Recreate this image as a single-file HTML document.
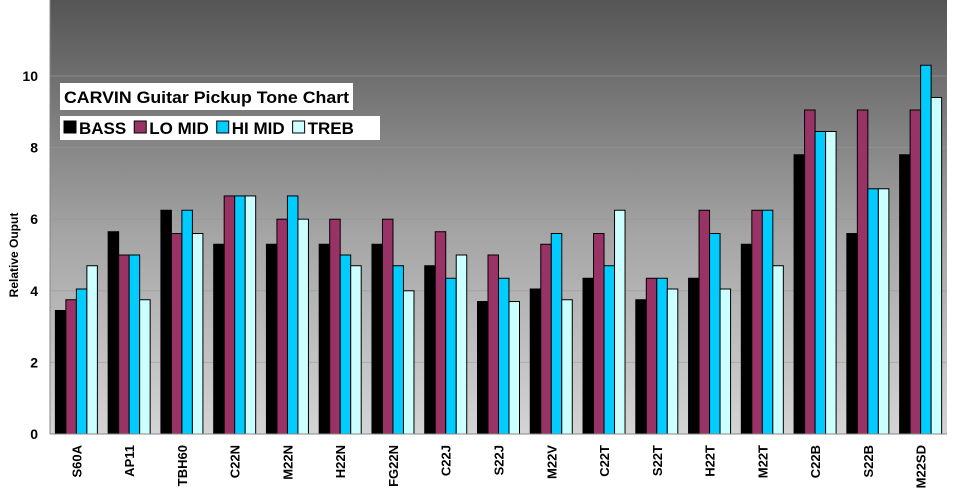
<!DOCTYPE html>
<html><head><meta charset="utf-8"><style>
html,body{margin:0;padding:0;background:#fff;}
svg{display:block;font-family:"Liberation Sans",Arial,sans-serif;}
</style></head><body>
<svg width="953" height="500" viewBox="0 0 953 500">
<defs>
<linearGradient id="bg" x1="0" y1="0" x2="0" y2="1">
<stop offset="0" stop-color="#555555"/>
<stop offset="0.55" stop-color="#a6a6a6"/>
<stop offset="1" stop-color="#d4d4d4"/>
</linearGradient>
</defs>
<rect x="50" y="0" width="897" height="434" fill="url(#bg)"/>
<g id="grid"></g>
<g id="bars"></g>
<g id="axes"></g>
<text x="18" y="255" transform="rotate(-90 18 255)" text-anchor="middle" font-size="12" font-weight="bold">Relative Ouput</text>
<rect x="60" y="83" width="293" height="27" fill="#fff"/>
<text x="64" y="103" font-size="17" font-weight="bold" textLength="285" lengthAdjust="spacingAndGlyphs">CARVIN Guitar Pickup Tone Chart</text>
<rect x="60" y="116" width="320" height="24" fill="#fff"/>
<g id="legend"></g>
</svg>
<script>
const categories=["S60A","AP11","TBH60","C22N","M22N","H22N","FG22N","C22J","S22J","M22V","C22T","S22T","H22T","M22T","C22B","S22B","M22SD"];
const seriesNames=["BASS","LO MID","HI MID","TREB"];
const bass=[3.45,5.65,6.25,5.3,5.3,5.3,5.3,4.7,3.7,4.05,4.35,3.75,4.35,5.3,7.8,5.6,7.8];
const loMid=[3.75,5.0,5.6,6.65,6.0,6.0,6.0,5.65,5.0,5.3,5.6,4.35,6.25,6.25,9.05,9.05,9.05];
const hiMid=[4.05,5.0,6.25,6.65,6.65,5.0,4.7,4.35,4.35,5.6,4.7,4.35,5.6,6.25,8.45,6.85,10.3];
const treb=[4.7,3.75,5.6,6.65,6.0,4.7,4.0,5.0,3.7,3.75,6.25,4.05,4.05,4.7,8.45,6.85,9.4];
const yTicks=[0,2,4,6,8,10];
const colors=["#000000","#993366","#00ccff","#ccffff"];
const NS="http://www.w3.org/2000/svg";
const X0=50,X1=947,Y0=434,PX=35.8;
const bw=(X1-X0)/categories.length;
function y(v){return Y0-v*PX;}
function x(i){return X0+bw*(i+0.5);}
const grid=document.getElementById('grid'),bars=document.getElementById('bars'),axes=document.getElementById('axes'),leg=document.getElementById('legend');
function mk(tag,attrs,parent){const e=document.createElementNS(NS,tag);for(const k in attrs)e.setAttribute(k,attrs[k]);parent.appendChild(e);return e;}
yTicks.forEach(t=>{
 if(t>0){const g=mk('line',{x1:X0,x2:X1,y1:y(t),y2:y(t),stroke:'#999','stroke-width':1,'stroke-opacity':0.6},grid);
 
 }
 const tl=mk('text',{x:38,y:y(t)+5,'text-anchor':'end','font-size':14,'font-weight':'bold'},axes);
 tl.textContent=t;
 
 
});
const series=[bass,loMid,hiMid,treb];
const barW=10.5;
categories.forEach((c,i)=>{
 series.forEach((s,j)=>{
  const bx=x(i)-2*barW+j*barW;
  const r=mk('rect',{x:bx,y:y(s[i]),width:barW,height:Y0-y(s[i]),fill:colors[j],stroke:'#000','stroke-width':1},bars);
  
  
 });
 const tx=x(i)+5,ty=445;
 const t=mk('text',{x:tx,y:ty,transform:`rotate(-90 ${tx} ${ty})`,'text-anchor':'end','font-size':13,'font-weight':'bold'},axes);
 t.textContent=c;
 
 
});
const ax=mk('line',{x1:X0,x2:X1,y1:Y0,y2:Y0,stroke:'#888','stroke-width':1},axes);


const ay=mk('line',{x1:X0,x2:X0,y1:0,y2:Y0,stroke:'#888','stroke-width':1},axes);


let lx=64;
seriesNames.forEach((n,j)=>{
 const sw=mk('rect',{x:lx,y:121,width:12,height:12,fill:colors[j],stroke:'#000','stroke-width':1},leg);
 
 
 const t=mk('text',{x:lx+15,y:134,'font-size':17,'font-weight':'bold'},leg);
 t.textContent=n;
 
 
 lx+=15+t.getComputedTextLength()+8;
});
</script>
</body></html>
